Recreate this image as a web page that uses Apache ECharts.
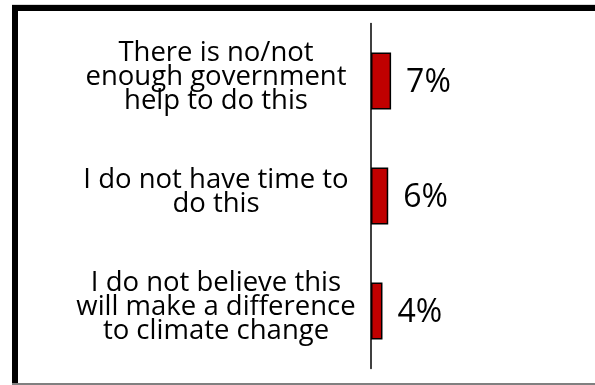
<!DOCTYPE html>
<html>
<head>
<meta charset="utf-8">
<script src="https://cdn.jsdelivr.net/npm/echarts@6/dist/echarts.min.js"></script>
<style>
  html, body { margin: 0; padding: 0; background: #fff; }
  #chart { width: 595px; height: 385px; }
</style>
</head>
<body>
<div id="chart"></div>
<script>
// Reasons given for not taking action (share of respondents, %)
const categories = [
  'There is no/not\nenough government\nhelp to do this',
  'I do not have time to\ndo this',
  'I do not believe this\nwill make a difference\nto climate change'
];
const values = [7, 6, 4];

const chart = echarts.init(document.getElementById('chart'), null, { renderer: 'canvas' });

const FONT = '"Open Sans", "Noto Sans", sans-serif';

chart.setOption({
  backgroundColor: '#ffffff',
  animation: false,
  graphic: [
    // frame: thin grey top hairline, thick black top and left rules, grey bottom rule
    { type: 'rect', shape: { x: 12, y: 4, width: 583, height: 1 }, style: { fill: '#d9d9d9' }, silent: true },
    { type: 'rect', shape: { x: 12, y: 5, width: 583, height: 6 }, style: { fill: '#000000' }, silent: true },
    { type: 'rect', shape: { x: 12, y: 5, width: 6, height: 380 }, style: { fill: '#000000' }, silent: true },
    { type: 'rect', shape: { x: 12, y: 383, width: 583, height: 2 }, style: { fill: '#808080' }, silent: true }
  ],
  grid: { left: 371, top: 23.5, width: 201, height: 345, containLabel: false },
  xAxis: {
    type: 'value',
    min: 0,
    max: 70,
    show: false
  },
  yAxis: {
    type: 'category',
    inverse: true,
    data: categories,
    axisLine: { show: true, lineStyle: { color: '#000000', width: 1.5 } },
    axisTick: { show: false },
    axisLabel: {
      margin: 155,
      align: 'center',
      color: '#000000',
      // each line as a styled run, plus a short empty run that lifts the block slightly
      formatter: v => v.split('\n').map(l => '{t|' + l + '}').join('\n') + '\n{s| }',
      rich: {
        t: { fontFamily: FONT, fontSize: 27.5, lineHeight: 24, color: '#000000', align: 'center' },
        s: { fontSize: 1, lineHeight: 8 }
      }
    }
  },
  series: [{
    type: 'bar',
    data: values,
    barWidth: 57,
    itemStyle: { color: '#C00000', borderColor: '#000000', borderWidth: 1.5 },
    label: {
      show: true,
      position: 'right',
      distance: 15,
      offset: [0, 2],
      formatter: '{c}%',
      fontFamily: FONT,
      fontSize: 32,
      color: '#000000'
    }
  }]
});
</script>
</body>
</html>
